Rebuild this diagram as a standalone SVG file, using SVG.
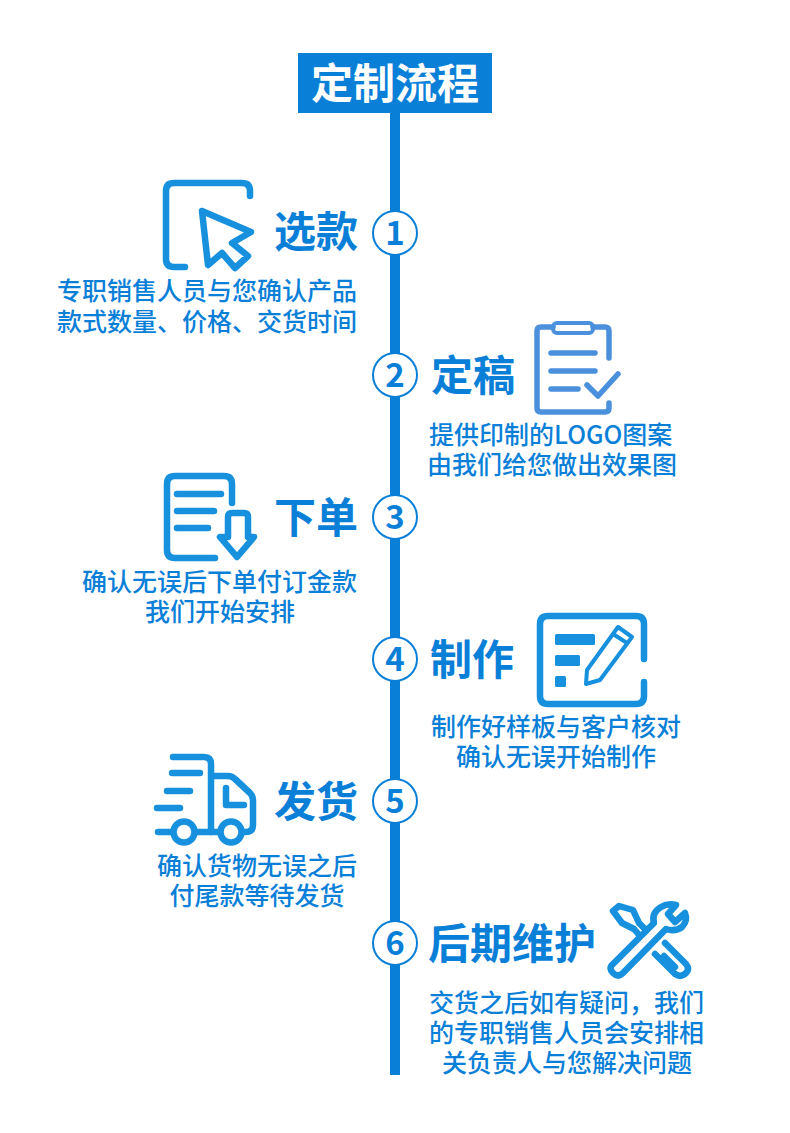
<svg xmlns="http://www.w3.org/2000/svg" width="790" height="1133" viewBox="0 0 790 1133">
<style>
text{font-family:"Noto Sans CJK SC","Noto Sans",sans-serif;fill:#0a7fd8}
.h{font-size:42px;font-weight:700}
.b{font-size:25px;font-weight:500}
.n{font-size:33px;font-weight:700;text-anchor:middle}
.c{fill:#fff;stroke:#0a7fd8;stroke-width:2}
.i{fill:none;stroke:#1791de;stroke-width:6.5;stroke-linecap:round;stroke-linejoin:round}
.p{stroke:#4a90dc}
.f{fill:#1791de}
.e{text-anchor:end}
.m{text-anchor:middle}
</style>
<rect width="790" height="1133" fill="#fff"/>
<g id="connectors"><rect x="390" y="113" width="10" height="962" fill="#0a7fd8"/></g>
<g id="title"><rect x="298" y="53" width="194" height="60" fill="#0a7fd8"/><text x="395" y="99" font-size="42" font-weight="700" text-anchor="middle" style="fill:#fff">定制流程</text></g>

<g id="step1">
<circle class="c" cx="395" cy="233" r="22"/><text class="n" x="395" y="245">1</text>
<text class="h e" x="358" y="247">选款</text>
<path class="i" d="M185 267H174Q166 267 166 259V191Q166 183 174 183H242Q250 183 250 191V196"/>
<path class="i" d="M202 211L251 232L232 243L248 256L235 268L222 253L208 265Z"/>
<text class="b e" x="357" y="300">专职销售人员与您确认产品</text>
<text class="b e" x="357" y="331">款式数量、价格、交货时间</text>
</g>

<g id="step2">
<circle class="c" cx="395" cy="375" r="22"/><text class="n" x="395" y="387">2</text>
<text class="h" x="431" y="391">定稿</text>
<path class="i p" style="stroke-width:5.5" d="M553 327H541Q537 327 537 331V408Q537 412 541 412H605Q609 412 609 408V403M593 327H605Q609 327 609 331V358"/>
<rect x="553" y="323" width="40" height="10" rx="4" class="i p" style="stroke-width:4"/>
<path class="i p" style="stroke-width:5.5" d="M551 353H595M551 371H595M551 389H578M587 385L598 396L618 374"/>
<text class="b" x="429" y="444">提供印制的LOGO图案</text>
<text class="b m" x="552" y="474">由我们给您做出效果图</text>
</g>

<g id="step3">
<circle class="c" cx="395" cy="517" r="22"/><text class="n" x="395" y="529">3</text>
<text class="h e" x="358" y="533">下单</text>
<path class="i" d="M215 558H175Q167 558 167 550V484Q167 476 175 476H224Q232 476 232 484V503"/>
<path class="i" d="M177 494H221M177 511H214M177 528H208"/>
<path class="i" d="M228 537V517Q228 513 232 513H244Q248 513 248 517V537H254L237 557L220 537Z"/>
<text class="b e" x="357" y="591">确认无误后下单付订金款</text>
<text class="b m" x="220" y="621">我们开始安排</text>
</g>

<g id="step4">
<circle class="c" cx="395" cy="659" r="22"/><text class="n" x="395" y="671">4</text>
<text class="h" x="430" y="675">制作</text>
<path class="i" d="M644 659V624Q644 616 636 616H548Q540 616 540 624V696Q540 704 548 704H636Q644 704 644 696V682"/>
<rect class="f" x="555" y="634" width="40" height="11" rx="1.5"/><rect class="f" x="555" y="655" width="25" height="11" rx="1.5"/><rect class="f" x="555" y="676" width="11" height="11" rx="1.5"/>
<path class="i" style="stroke-width:4" d="M586 684L587 670L618 627L632 637L600 680ZM613 634L627 643"/>
<text class="b m" x="556" y="736">制作好样板与客户核对</text>
<text class="b m" x="556" y="766">确认无误开始制作</text>
</g>

<g id="step5">
<circle class="c" cx="395" cy="801" r="22"/><text class="n" x="395" y="813">5</text>
<text class="h e" x="358" y="817">发货</text>
<path class="i" d="M173 757H204Q211 757 211 764V832H195M211 776H228Q232 776 235 779L250 793Q253 796 253 800V825Q253 832 246 832H243M226 788V805H244M172 773H200M167 791H190M157 808H180M158 832H173"/>
<circle class="i" cx="184" cy="832" r="10.5"/><circle class="i" cx="231" cy="832" r="10.5"/>
<path class="i" d="M220 832H211"/>
<text class="b e" x="357" y="875">确认货物无误之后</text>
<text class="b m" x="257" y="905">付尾款等待发货</text>
</g>

<g id="step6">
<circle class="c" cx="395" cy="943" r="22"/><text class="n" x="395" y="955">6</text>
<text class="h" x="428" y="959">后期维护</text>
<path class="i" d="M646 930L639 923L633 910L619 906L613 911L622 923L634 929L640 936M665 943L686 964Q690 969 686 973Q681 978 675 974L655 954M664 956L675 967"/>
<path class="i" d="M613 964L654 923Q651 913 661 907Q668 903 676 905L668 914L675 922L685 913Q688 921 682 927Q675 932 666 929L623 973Q618 978 613 973Q608 968 613 964Z"/>
<text class="b" x="429" y="1012">交货之后如有疑问，我们</text>
<text class="b" x="429" y="1042">的专职销售人员会安排相</text>
<text class="b m" x="567" y="1072">关负责人与您解决问题</text>
</g>
</svg>
